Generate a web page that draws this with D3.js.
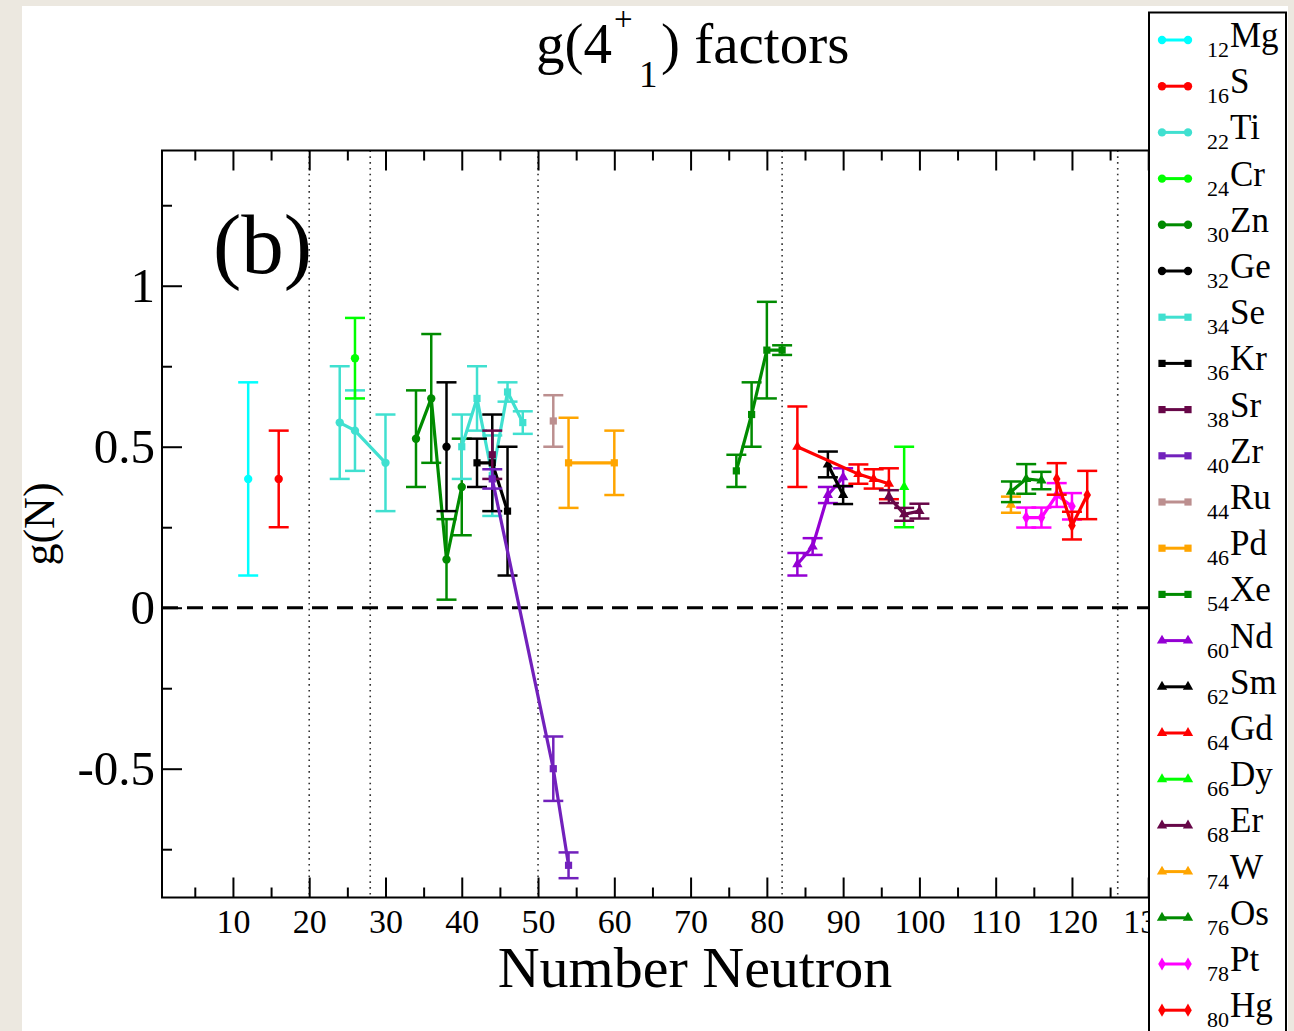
<!DOCTYPE html>
<html>
<head>
<meta charset="utf-8">
<script src="https://cdn.jsdelivr.net/npm/d3@7"></script>
<style>
  body { margin: 0; background: #ece8e0; }
  svg { display: block; }
</style>
</head>
<body>
<svg id="chart" width="1294" height="1031"></svg>
<script>
// values, each point is [N, g, error]
const Mg = [[12, 0.40, 0.30]];
const S  = [[16, 0.40, 0.15]];
const Ti = [[24, 0.575, 0.175], [26, 0.55, 0.125], [30, 0.45, 0.15]];
const Cr = [[26, 0.775, 0.125]];
const Zn = [[34, 0.525, 0.15], [36, 0.65, 0.20], [38, 0.15, 0.125], [40, 0.375, 0.15]];
const Ge = [[38, 0.50, 0.20]];
const Se = [[40, 0.50, 0.10], [42, 0.65, 0.10], [44, 0.41, 0.125], [46, 0.67, 0.03], [48, 0.575, 0.035]];
const Kr = [[42, 0.45, 0.075], [44, 0.45, 0.15], [46, 0.30, 0.20]];
const Sr = [[44, 0.475, 0.075]];
const Zr = [[44, 0.40, 0.03], [52, -0.50, 0.10], [54, -0.80, 0.04]];
const Ru = [[52, 0.58, 0.08]];
const Pd = [[54, 0.45, 0.14], [60, 0.45, 0.10]];
const Xe = [[76, 0.425, 0.05], [78, 0.60, 0.10], [80, 0.80, 0.15], [82, 0.80, 0.015]];
const Nd = [[84, 0.135, 0.035], [86, 0.19, 0.026], [88, 0.35, 0.025], [90, 0.405, 0.028]];
const Sm = [[88, 0.445, 0.04], [90, 0.35, 0.028]];
const Gd = [[84, 0.50, 0.125], [92, 0.415, 0.03], [94, 0.40, 0.03], [96, 0.385, 0.048]];
const Dy = [[98, 0.375, 0.125]];
const Er = [[96, 0.345, 0.02], [98, 0.29, 0.02], [100, 0.30, 0.023]];
const W  = [[112, 0.32, 0.025]];
const Os = [[112, 0.36, 0.032], [114, 0.40, 0.046], [116, 0.395, 0.027]];
const Pt = [[114, 0.28, 0.031], [116, 0.28, 0.031], [118, 0.35, 0.037], [120, 0.315, 0.041]];
const Hg = [[118, 0.40, 0.049], [120, 0.255, 0.043], [122, 0.35, 0.075]];

const elements = ["Mg", "S", "Ti", "Cr", "Zn", "Ge", "Se", "Kr", "Sr", "Zr", "Ru",
                  "Pd", "Xe", "Nd", "Sm", "Gd", "Dy", "Er", "W", "Os", "Pt", "Hg"];
const protons = [12, 16, 22, 24, 30, 32, 34, 36, 38, 40, 44, 46, 54, 60, 62, 64, 66, 68, 74, 76, 78, 80];
const seriesData = [Mg, S, Ti, Cr, Zn, Ge, Se, Kr, Sr, Zr, Ru, Pd, Xe, Nd, Sm, Gd, Dy, Er, W, Os, Pt, Hg];

const xMajorTicks = [10, 20, 30, 40, 50, 60, 70, 80, 90, 100, 110, 120, 130];
const xMinorTicks = [5, 15, 25, 35, 45, 55, 65, 75, 85, 95, 105, 115, 125, 135];
const yMajorTicks = [-0.5, 0, 0.5, 1];
const yMinorTicks = [-0.75, -0.25, 0.25, 0.75, 1.25];
const magicNumbers = [20, 28, 50, 82, 126];

// styles
const colors = ["#00ffff", "#ff0000", "#40e0d0", "#00ff00", "#008b00", "#000000", "#40e0d0",
                "#000000", "#670748", "#7221bc", "#bc8f8f", "#ffa500", "#008b00", "#9400d3",
                "#000000", "#ff0000", "#00ff00", "#670748", "#ffa500", "#008b00", "#ff00ff", "#ff0000"];
const shapeOf = i => i < 6 ? "circle" : i < 13 ? "square" : i < 20 ? "triangle" : "diamond";
const symbols = {
    circle: d3.symbol().type(d3.symbolCircle).size(55),
    square: d3.symbol().type(d3.symbolSquare).size(52),
    triangle: d3.symbol().type(d3.symbolTriangle).size(46),
    diamond: d3.symbol().type(d3.symbolDiamond).size(50)
};
const serif = "'Liberation Serif', 'Times New Roman', serif";

const svg = d3.select("#chart");

// paper
svg.append("rect").attr("x", 22).attr("y", 6).attr("width", 1266).attr("height", 1040).attr("fill", "#fff");

const x = d3.scaleLinear().domain([0.7, 136]).range([162, 1194]);
const y = d3.scaleLinear().domain([-0.9, 1.42]).range([897.5, 150.5]);

const plotTop = y.range()[1], plotBottom = y.range()[0];
const plotLeft = x.range()[0], plotRight = x.range()[1];

// magic number guides
svg.append("g").selectAll("line")
    .data(magicNumbers)
    .join("line")
    .attr("x1", d => x(d)).attr("x2", d => x(d))
    .attr("y1", plotTop).attr("y2", plotBottom)
    .attr("stroke", "#333")
    .attr("stroke-width", 1.6)
    .attr("stroke-dasharray", "1.6,4.2");

// zero line
svg.append("line")
    .attr("x1", plotLeft).attr("x2", plotRight)
    .attr("y1", y(0)).attr("y2", y(0))
    .attr("stroke", "#000")
    .attr("stroke-width", 3)
    .attr("stroke-dasharray", "16,9");

// axes
const styleAxis = g => {
    g.select(".domain").remove();
    g.selectAll(".tick line").attr("stroke", "#000").attr("stroke-width", 2);
    g.attr("font-family", serif);
};

svg.append("g")
    .attr("transform", `translate(0,${plotBottom})`)
    .call(d3.axisBottom(x).tickValues(xMajorTicks).tickSize(-20).tickPadding(11))
    .call(styleAxis)
    .attr("font-size", 34);
svg.append("g")
    .attr("transform", `translate(0,${plotBottom})`)
    .call(d3.axisBottom(x).tickValues(xMinorTicks).tickSize(-10).tickFormat(""))
    .call(styleAxis);
svg.append("g")
    .attr("transform", `translate(0,${plotTop})`)
    .call(d3.axisTop(x).tickValues(xMajorTicks).tickSize(-20).tickFormat(""))
    .call(styleAxis);
svg.append("g")
    .attr("transform", `translate(0,${plotTop})`)
    .call(d3.axisTop(x).tickValues(xMinorTicks).tickSize(-10).tickFormat(""))
    .call(styleAxis);

svg.append("g")
    .attr("transform", `translate(${plotLeft},0)`)
    .call(d3.axisLeft(y).tickValues(yMajorTicks).tickSize(-20).tickPadding(7).tickFormat(d => d))
    .call(styleAxis)
    .attr("font-size", 49);
svg.append("g")
    .attr("transform", `translate(${plotLeft},0)`)
    .call(d3.axisLeft(y).tickValues(yMinorTicks).tickSize(-10).tickFormat(""))
    .call(styleAxis);
svg.append("g")
    .attr("transform", `translate(${plotRight},0)`)
    .call(d3.axisRight(y).tickValues(yMajorTicks).tickSize(-20).tickFormat(""))
    .call(styleAxis);

// frame
svg.append("rect")
    .attr("x", plotLeft).attr("y", plotTop)
    .attr("width", plotRight - plotLeft).attr("height", plotBottom - plotTop)
    .attr("fill", "none").attr("stroke", "#000").attr("stroke-width", 2);

// data series
const line = d3.line().x(d => x(d[0])).y(d => y(d[1]));
const cap = 10;

seriesData.forEach((pts, i) => {
    const color = colors[i];
    const g = svg.append("g").attr("class", "series-" + elements[i]);

    const eb = g.selectAll("g.err").data(pts).join("g").attr("class", "err")
        .attr("stroke", color).attr("stroke-width", 2.5);
    eb.append("line")
        .attr("x1", d => x(d[0])).attr("x2", d => x(d[0]))
        .attr("y1", d => y(d[1] + d[2])).attr("y2", d => y(d[1] - d[2]));
    eb.append("line")
        .attr("x1", d => x(d[0]) - cap).attr("x2", d => x(d[0]) + cap)
        .attr("y1", d => y(d[1] + d[2])).attr("y2", d => y(d[1] + d[2]));
    eb.append("line")
        .attr("x1", d => x(d[0]) - cap).attr("x2", d => x(d[0]) + cap)
        .attr("y1", d => y(d[1] - d[2])).attr("y2", d => y(d[1] - d[2]));

    if (pts.length > 1) {
        g.append("path")
            .datum(pts)
            .attr("fill", "none")
            .attr("stroke", color)
            .attr("stroke-width", 3.2)
            .attr("d", line);
    }

    g.selectAll("path.mark").data(pts).join("path").attr("class", "mark")
        .attr("transform", d => `translate(${x(d[0])},${y(d[1])})`)
        .attr("d", symbols[shapeOf(i)]())
        .attr("fill", color);
});

// labels
svg.append("text")
    .attr("x", 213).attr("y", 273)
    .attr("font-family", serif).attr("font-size", 85)
    .text("(b)");

svg.append("text")
    .attr("text-anchor", "middle")
    .attr("x", 695).attr("y", 987)
    .attr("font-family", serif).attr("font-size", 58)
    .text("Number Neutron");

svg.append("text")
    .attr("transform", "translate(54,524) rotate(-90)")
    .attr("text-anchor", "middle")
    .attr("font-family", serif).attr("font-size", 44)
    .text("g(N)");

const title = svg.append("text")
    .attr("font-family", serif).attr("font-size", 57);
title.append("tspan").attr("x", 536).attr("y", 63).text("g(4");
title.append("tspan").attr("x", 614).attr("y", 30).attr("font-size", 33).text("+");
title.append("tspan").attr("x", 639).attr("y", 87).attr("font-size", 37).text("1");
title.append("tspan").attr("x", 661).attr("y", 63).text(") factors");

// legend
const legend = svg.append("g");
legend.append("rect")
    .attr("x", 1149).attr("y", 12.5)
    .attr("width", 137).attr("height", 1040)
    .attr("fill", "#fff").attr("stroke", "#000").attr("stroke-width", 2);

elements.forEach((el, i) => {
    const ly = 40 + i * 46.2;
    const row = legend.append("g");
    row.append("line")
        .attr("x1", 1162).attr("x2", 1188)
        .attr("y1", ly).attr("y2", ly)
        .attr("stroke", colors[i]).attr("stroke-width", 3);
    row.selectAll("path").data([1162, 1188]).join("path")
        .attr("transform", d => `translate(${d},${ly})`)
        .attr("d", symbols[shapeOf(i)]())
        .attr("fill", colors[i]);
    const t = row.append("text").attr("font-family", serif);
    t.append("tspan").attr("x", 1207).attr("y", ly + 17).attr("font-size", 22).text(protons[i]);
    t.append("tspan").attr("x", 1230).attr("y", ly + 7).attr("font-size", 35).text(el);
});
</script>
</body>
</html>
